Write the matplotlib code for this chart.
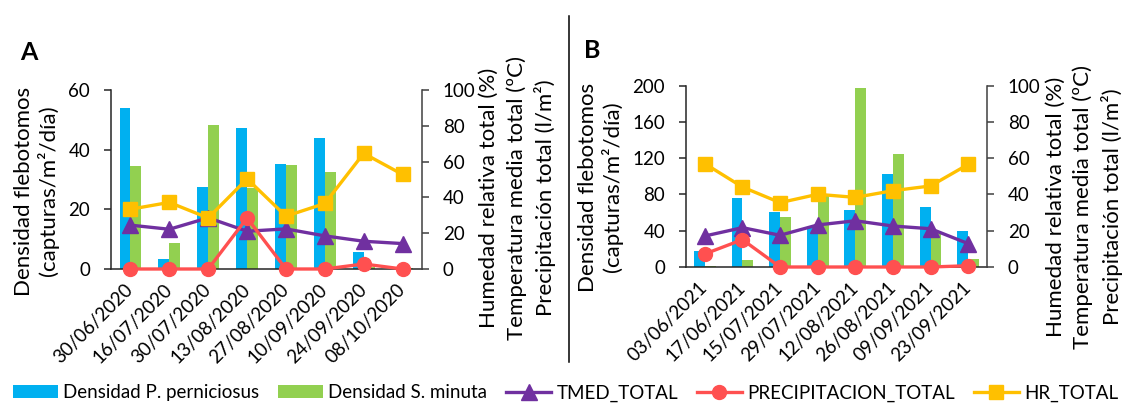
import matplotlib
matplotlib.use('Agg')
import matplotlib.pyplot as plt
from matplotlib.lines import Line2D
import numpy as np

plt.rcParams['font.family'] = ['Lato', 'DejaVu Sans']

# ---------------- data ----------------
dates_a = ['30/06/2020', '16/07/2020', '30/07/2020', '13/08/2020',
           '27/08/2020', '10/09/2020', '24/09/2020', '08/10/2020']
pern_a = [53.9, 3.4, 27.4, 47.2, 35.3, 43.9, 5.8, 0.0]
minuta_a = [34.5, 8.7, 48.3, 27.3, 34.8, 32.5, 0.6, 0.3]
tmed_a = [24.5, 22.2, 28.6, 21.1, 22.4, 18.5, 15.5, 14.2]
prec_a = [0.0, 0.0, 0.0, 28.5, 0.0, 0.0, 2.8, 0.0]
hr_a = [33.4, 37.2, 28.5, 50.4, 29.5, 36.6, 64.6, 52.8]

dates_b = ['03/06/2021', '17/06/2021', '15/07/2021', '29/07/2021',
           '12/08/2021', '26/08/2021', '09/09/2021', '23/09/2021']
pern_b = [17.6, 76.1, 60.3, 44.5, 62.5, 102.6, 65.8, 39.7]
minuta_b = [1.4, 7.7, 55.5, 78.0, 197.0, 124.3, 38.0, 9.2]
tmed_b = [17.1, 21.7, 17.5, 23.2, 25.5, 22.6, 21.1, 12.9]
prec_b = [7.2, 15.1, 0.0, 0.0, 0.0, 0.0, 0.0, 0.7]
hr_b = [57.0, 44.1, 35.5, 40.1, 38.4, 42.1, 44.7, 56.6]

left_ticks_a = [0, 20, 40, 60]
left_ticks_b = [0, 40, 80, 120, 160, 200]
right_ticks = [0, 20, 40, 60, 80, 100]

series_names = ['Densidad P. perniciosus', 'Densidad S. minuta',
                'TMED_TOTAL', 'PRECIPITACION_TOTAL', 'HR_TOTAL']

# ---------------- style ----------------
C_BLUE = '#00B0F0'
C_GREEN = '#92D050'
C_PURPLE = '#7030A0'
C_RED = '#FF5050'
C_YELLOW = '#FFC000'
FS = 13.5
LAB_FS = 16

W, H = 1127, 403
fig = plt.figure(figsize=(W / 100, H / 100), dpi=100)


def px_rect(l, r, t, b):
    return [l / W, 1 - b / H, (r - l) / W, (b - t) / H]


def panel(rect, dates, pern, minuta, tmed, prec, hr, lticks, bw):
    ax = fig.add_axes(rect)
    x = np.arange(len(dates))
    b1 = ax.bar(x - bw / 2, pern, width=bw, color=C_BLUE, zorder=2)
    b2 = ax.bar(x + bw / 2, minuta, width=bw, color=C_GREEN, zorder=2)
    ax.set_xlim(-0.5, len(dates) - 0.5)
    ax.set_ylim(lticks[0], lticks[-1])
    ax.set_yticks(lticks)
    ax.set_xticks(x)
    ax.set_xticklabels(dates, rotation=45, ha='right', va='center',
                       rotation_mode='anchor', fontsize=FS)
    ax.tick_params(axis='x', length=0, pad=13)
    ax.tick_params(axis='y', length=5, width=1.1, pad=10, labelsize=FS,
                   direction='out', color='#262626')
    ax.spines['top'].set_visible(False)
    ax.spines['right'].set_visible(False)
    ax.spines['left'].set_color('#262626')
    ax.spines['bottom'].set_color('#262626')
    ax.spines['left'].set_linewidth(1.1)
    ax.spines['bottom'].set_linewidth(1.1)

    ax2 = ax.twinx()
    ax2.set_ylim(0, 100)
    ax2.set_yticks(right_ticks)
    ax2.tick_params(axis='y', length=5, width=1.1, pad=10, labelsize=FS,
                    direction='out', color='#404040')
    for s in ['top', 'left', 'bottom']:
        ax2.spines[s].set_visible(False)
    ax2.spines['right'].set_color('#404040')
    ax2.spines['right'].set_linewidth(1.1)
    l1, = ax2.plot(x, tmed, color=C_PURPLE, lw=2.4, marker='^', ms=11,
                   clip_on=False)
    l2, = ax2.plot(x, prec, color=C_RED, lw=2.4, marker='o', ms=10,
                   clip_on=False)
    l3, = ax2.plot(x, hr, color=C_YELLOW, lw=2.4, marker='s', ms=10,
                   clip_on=False)
    return [b1, b2, l1, l2, l3]


handles = panel(px_rect(111, 422, 90, 269), dates_a, pern_a, minuta_a,
                tmed_a, prec_a, hr_a, left_ticks_a, 0.28)
panel(px_rect(686, 987, 85.7, 267), dates_b, pern_b, minuta_b,
      tmed_b, prec_b, hr_b, left_ticks_b, 0.29)

# axis titles
left_lbl = 'Densidad flebotomos\n(capturas/m²/día)'
right_lbl = ('Humedad relativa total (%)\nTemperatura media total (ºC)\n'
             'Precipitación total (l/m²)')
fig.text(36.5 / W, 1 - 191 / H, left_lbl, rotation=90, ha='center',
         va='center', ma='center', fontsize=LAB_FS, linespacing=1.2)
fig.text(600.5 / W, 1 - 187 / H, left_lbl, rotation=90, ha='center',
         va='center', ma='center', fontsize=LAB_FS, linespacing=1.2)
fig.text(517.5 / W, 1 - 198 / H, right_lbl, rotation=90, ha='center',
         va='center', ma='center', fontsize=LAB_FS, linespacing=1.42)
fig.text(1084 / W, 1 - 207 / H, right_lbl, rotation=90, ha='center',
         va='center', ma='center', fontsize=LAB_FS, linespacing=1.42)

# panel letters
fig.text(29 / W, 1 - 52 / H, 'A', fontsize=18, fontweight='bold',
         ha='center', va='center')
fig.text(592 / W, 1 - 50 / H, 'B', fontsize=18, fontweight='bold',
         ha='center', va='center')

# divider
fig.add_artist(Line2D([569 / W, 569 / W], [1 - 16 / H, 1 - 362 / H],
                      color='black', lw=1.1))

fig.legend(handles, series_names, loc='center',
           bbox_to_anchor=(0.5 + 2 / W, 1 - 393 / H), ncol=5, frameon=False,
           fontsize=FS, handlelength=2.4, handletextpad=0.29,
           columnspacing=1.0, borderaxespad=0, borderpad=0)

fig.savefig('out.png', dpi=100)
